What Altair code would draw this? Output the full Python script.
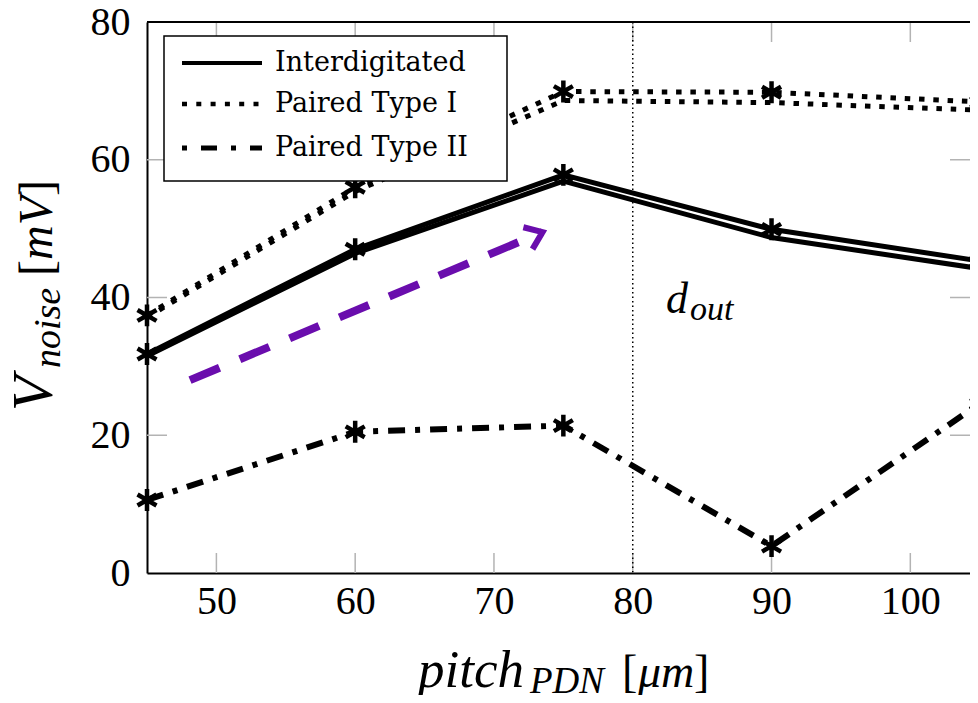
import altair as alt
import pandas as pd

# ---------------- data ----------------
x_vals = [45, 60, 75, 90, 105]
inter_a = [31.8, 47.0, 57.8, 49.9, 45.3]
inter_b = [31.5, 46.4, 56.9, 48.7, 44.2]
p1_a = [37.4, 56.0, 69.9, 69.8, 68.4]
p1_b = [37.1, 55.4, 68.6, 68.3, 67.2]
p2 = [10.6, 20.5, 21.4, 3.9, 24.6]

x_ticks = [50, 60, 70, 80, 90, 100]
y_ticks = [0, 20, 40, 60, 80]
y_inner_ticks = [20, 40, 60]
d_out_x = 80
arrow_x = [48.1, 73.5]
arrow_y = [28.0, 49.5]
legend_names = ["Interdigitated", "Paired Type I", "Paired Type II"]

W, H = 823, 551
XDOM = [45, 104.3]
YDOM = [0, 80]
SERIF = "Liberation Serif"

xaxis = alt.Axis(values=x_ticks, ticks=False, grid=False, domainColor="black",
                 domainWidth=2, labelFont=SERIF, labelFontSize=40,
                 labelColor="black", labelPadding=8, labelFlush=False, title=None)
yaxis = alt.Axis(values=y_ticks, ticks=False, grid=False, domainColor="black",
                 domainWidth=2, labelFont=SERIF, labelFontSize=40,
                 labelColor="black", labelPadding=17, labelFlush=False, title=None)


def X(f):
    return alt.X(f, type="quantitative", scale=alt.Scale(domain=XDOM, nice=False, zero=False), axis=xaxis)


def Y(f):
    return alt.Y(f, type="quantitative", scale=alt.Scale(domain=YDOM, nice=False, zero=False), axis=yaxis)


def series_df(ys):
    return pd.DataFrame({"x": x_vals, "y": ys})


dummy = pd.DataFrame({"a": [0]})

layers = []

# gray inner ticks
xt = pd.DataFrame({"t": x_ticks})
yt = pd.DataFrame({"t": y_inner_ticks})
gray = "#b3b3b3"
layers.append(alt.Chart(xt).mark_rule(color=gray, strokeWidth=1.5).encode(
    x=X("t"), y=alt.value(H), y2=alt.value(H - 20)))
layers.append(alt.Chart(xt).mark_rule(color=gray, strokeWidth=1.5).encode(
    x=X("t"), y=alt.value(0), y2=alt.value(20)))
layers.append(alt.Chart(yt).mark_rule(color=gray, strokeWidth=1.5).encode(
    y=Y("t"), x=alt.value(0), x2=alt.value(20)))
layers.append(alt.Chart(yt).mark_rule(color=gray, strokeWidth=1.5).encode(
    y=Y("t"), x=alt.value(W - 20), x2=alt.value(W)))

# top border
layers.append(alt.Chart(dummy).mark_rule(color="black", strokeWidth=2).encode(
    x=alt.value(0), x2=alt.value(W), y=alt.value(0)))

# vertical dotted line at d_out
layers.append(alt.Chart(pd.DataFrame({"v": [d_out_x]})).mark_rule(
    color="black", strokeWidth=1.5, strokeDash=[1.5, 3]).encode(x=X("v")))

# data lines
for ys in (inter_a, inter_b):
    layers.append(alt.Chart(series_df(ys)).mark_line(
        color="black", strokeWidth=5, clip=True).encode(x=X("x"), y=Y("y")))
for ys in (p1_a, p1_b):
    layers.append(alt.Chart(series_df(ys)).mark_line(
        color="black", strokeWidth=5, strokeDash=[5.5, 8.8], clip=True).encode(x=X("x"), y=Y("y")))
layers.append(alt.Chart(series_df(p2)).mark_line(
    color="black", strokeWidth=6, strokeDash=[17, 10, 5, 10], clip=True).encode(x=X("x"), y=Y("y")))

# asterisk markers
star = "M0,-1L0,1M-0.866,-0.5L0.866,0.5M-0.866,0.5L0.866,-0.5"
for ys in (inter_a, p1_a, p2):
    layers.append(alt.Chart(series_df(ys)).mark_point(
        shape=star, size=480, filled=False, stroke="black", strokeWidth=4.5, opacity=1
    ).encode(x=X("x"), y=Y("y")))

# purple dashed arrow
purple = "#6a0dad"
adf = pd.DataFrame({"x": arrow_x, "y": arrow_y})
layers.append(alt.Chart(adf).mark_line(color=purple, strokeWidth=8, strokeDash=[32, 22]).encode(
    x=X("x"), y=Y("y")))
head = "M-1,-0.75L0,0L-1,0.75"
layers.append(alt.Chart(adf.iloc[[1]]).mark_point(
    shape=head, size=1000, filled=False, stroke=purple, strokeWidth=6, opacity=1, angle=337.3,
    strokeJoin="miter").encode(x=X("x"), y=Y("y")))


def txt(t, x, y, size, italic=True, angle=0, font=SERIF):
    kw = dict(text=t, font=font, fontSize=size, align="left",
              baseline="alphabetic", color="black")
    if italic:
        kw["fontStyle"] = "italic"
    if angle:
        kw["angle"] = angle
    return alt.Chart(dummy).mark_text(**kw).encode(x=alt.value(x), y=alt.value(y))


# d_out label
layers.append(txt("d", 519, 291, 44))
layers.append(txt("out", 543, 298, 34))

# legend
layers.append(alt.Chart(dummy).mark_rect(fill="white", stroke="black", strokeWidth=1.5).encode(
    x=alt.value(17), x2=alt.value(360), y=alt.value(14), y2=alt.value(159)))
rows = [41, 82, 126]
styles = [dict(strokeWidth=4), dict(strokeWidth=4.5, strokeDash=[5, 9.3]),
          dict(strokeWidth=5, strokeDash=[5, 14, 16, 14])]
for name, ry, st in zip(legend_names, rows, styles):
    layers.append(alt.Chart(dummy).mark_rule(color="black", **st).encode(
        x=alt.value(35), x2=alt.value(115), y=alt.value(ry)))
    layers.append(alt.Chart(dummy).mark_text(
        text=name, font="DejaVu Serif", fontSize=27, align="left", baseline="middle",
        color="black").encode(x=alt.value(128), y=alt.value(ry)))

# x title: pitch_PDN [μm]
layers.append(txt("pitch", 271, 665, 53))
layers.append(txt("PDN", 383, 671, 37))
layers.append(txt("[", 475, 665, 46, italic=False))
layers.append(txt("μm", 491, 665, 46))
layers.append(txt("]", 547, 665, 46, italic=False))

# y title: V_noise [mV]
layers.append(txt("V", -95, 389, 58, angle=270))
layers.append(txt("noise", -87, 346, 38, angle=270))
layers.append(txt("[", -95, 254, 48, italic=False, angle=270))
layers.append(txt("mV", -95, 238, 48, angle=270))
layers.append(txt("]", -95, 174, 48, italic=False, angle=270))

chart = alt.layer(*layers).properties(
    width=W, height=H,
    autosize=alt.AutoSizeParams(type="none"),
    padding={"left": 139, "top": 14, "right": 0, "bottom": 122},
).configure_view(stroke=None)

chart.save("out.html", embed_options={"renderer": "svg", "actions": False})
